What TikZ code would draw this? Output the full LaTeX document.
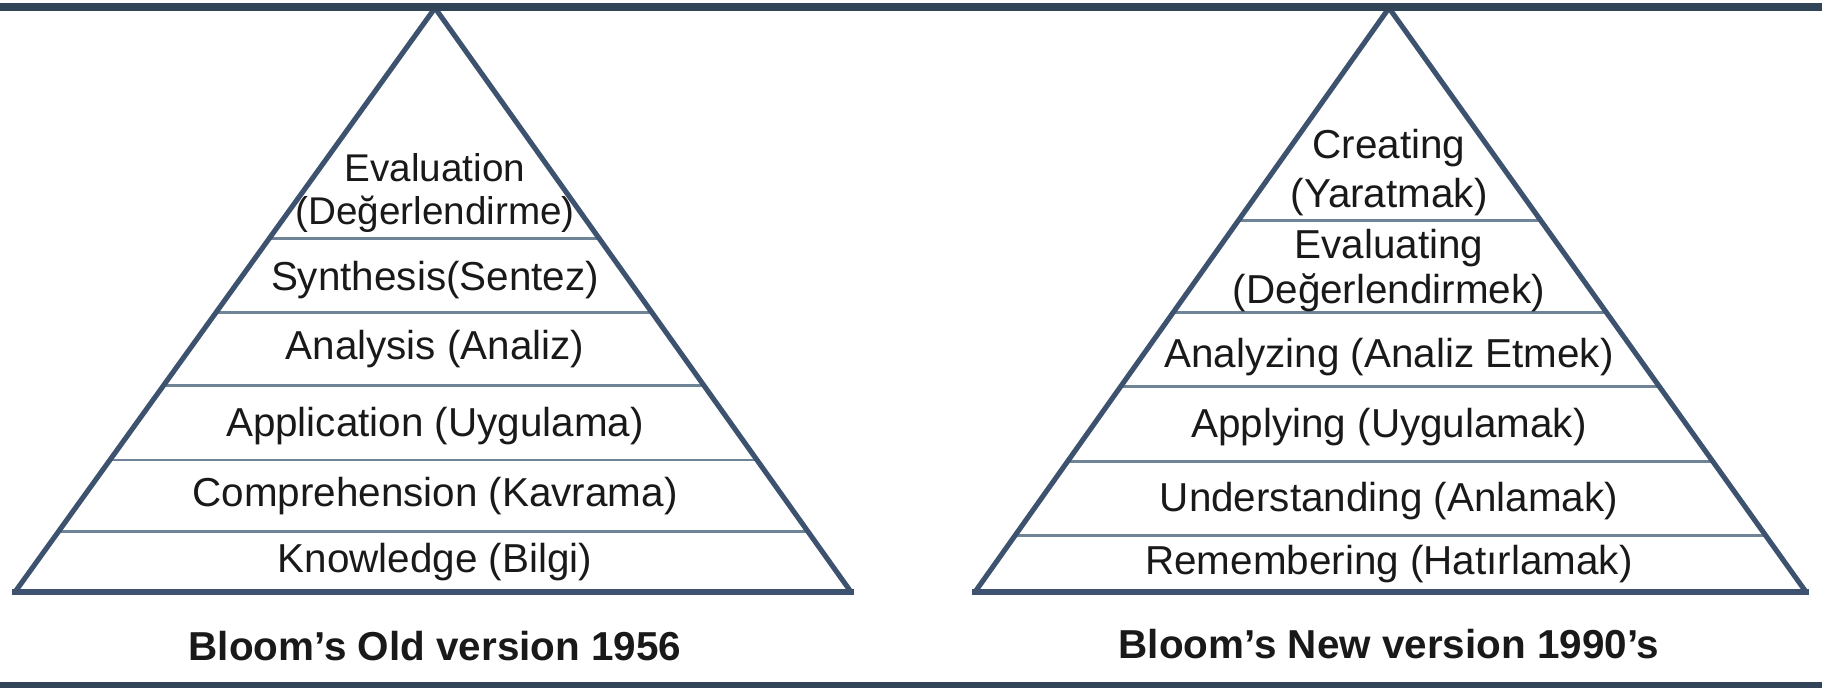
\documentclass[tikz,border=0pt]{standalone}
\usepackage{fontspec}
\setmainfont{Liberation Sans}
\usetikzlibrary{calc}
\definecolor{barcol}{RGB}{50,68,88}
\definecolor{edgecol}{RGB}{60,82,110}
\definecolor{divcol}{RGB}{112,132,152}

\begin{document}
\begin{tikzpicture}[
        edge/.style={draw=edgecol, line width=1.45pt, line join=miter},
        basebar/.style={draw=edgecol, line width=1.9pt, line cap=rect},
        divider/.style={draw=divcol, line width=0.85pt},
        level/.style={font=\fontsize{11.5}{12.8}\selectfont, text=black!90, inner sep=0pt, align=center},
        caption/.style={font=\bfseries\fontsize{11.5}{13}\selectfont, text=black!90, inner sep=0pt}]
        \useasboundingbox (0,0) rectangle (18.22,6.88);

        % old version
        \coordinate (LA) at (4.35,6.80);
        \coordinate (LL) at (0.15,0.96);
        \coordinate (LR) at (8.51,0.96);
        \foreach \t in {0.394,0.521,0.646,0.774,0.897}
            \draw[divider] ($(LA)!\t!(LL)$) -- ($(LA)!\t!(LR)$);
        \draw[edge] (LL) -- (LA) -- (LR);
        \draw[basebar] (LL) -- (LR);

        \node[level, font=\fontsize{11}{12.4}\selectfont] (Eval) at (4.35,4.95) {Evaluation\\(Değerlendirme)};
        \node[level] (Synth) at (4.35,4.08) {Synthesis(Sentez)};
        \node[level] (Anal) at (4.35,3.39) {Analysis (Analiz)};
        \node[level] (Appl) at (4.35,2.62) {Application (Uygulama)};
        \node[level] (Comp) at (4.35,1.92) {Comprehension (Kavrama)};
        \node[level] (Know) at (4.35,1.26) {Knowledge (Bilgi)};
        \node[caption] (OldT) at (4.35,0.42) {Bloom’s Old version 1956};

        % new version
        \coordinate (RA) at (13.89,6.80);
        \coordinate (RL) at (9.75,0.96);
        \coordinate (RR) at (18.06,0.96);
        \foreach \t in {0.364,0.521,0.648,0.776,0.903}
            \draw[divider] ($(RA)!\t!(RL)$) -- ($(RA)!\t!(RR)$);
        \draw[edge] (RL) -- (RA) -- (RR);
        \draw[basebar] (RL) -- (RR);

        \node[level] (Creat) at (13.89,5.155) {Creating\\[1.2pt](Yaratmak)};
        \node[level] (Evalg) at (13.89,4.175) {Evaluating\\(Değerlendirmek)};
        \node[level] (Analg) at (13.89,3.31) {Analyzing (Analiz Etmek)};
        \node[level] (Applg) at (13.89,2.61) {Applying (Uygulamak)};
        \node[level] (Undst) at (13.89,1.87) {Understanding (Anlamak)};
        \node[level] (Remem) at (13.89,1.24) {Remembering (Hatırlamak)};
        \node[caption] (NewT) at (13.89,0.44) {Bloom’s New version 1990’s};

        % frame bars
        \fill[barcol] (0,6.77) rectangle (18.22,6.85);
        \fill[barcol] (0,0) rectangle (18.22,0.06);
    \end{tikzpicture}
\end{document}
